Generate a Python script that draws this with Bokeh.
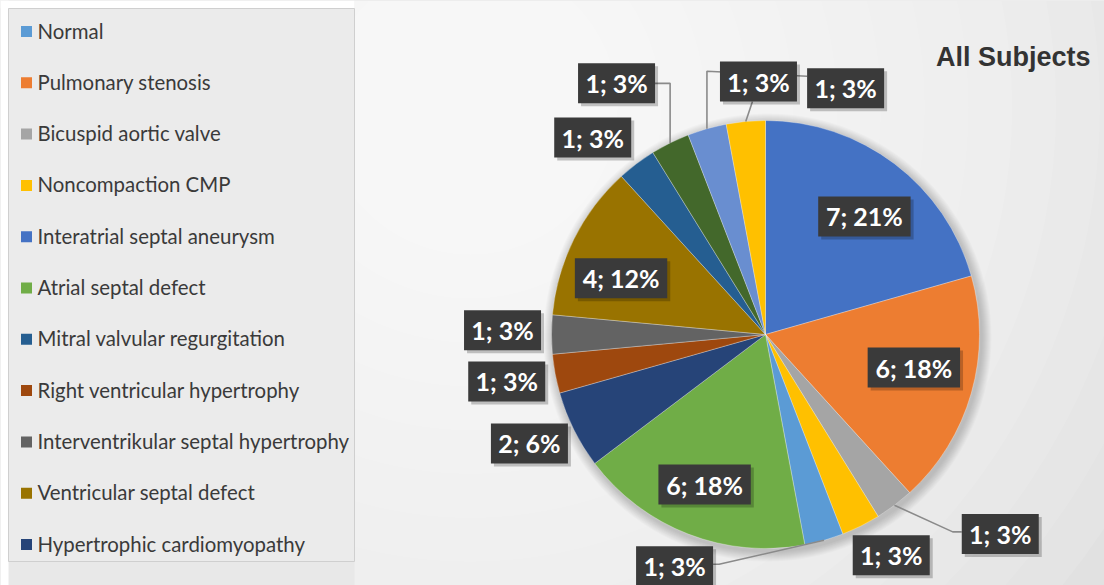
import numpy as np
from bokeh.plotting import figure
from bokeh.models import Range1d
from bokeh.core.properties import value
from bokeh.embed import file_html
from bokeh.resources import INLINE

# ---------------- data ----------------
slice_values = [7, 6, 1, 1, 1, 6, 2, 1, 1, 4, 1, 1, 1, 1]
slice_colors = ["#4472C4", "#ED7D31", "#A5A5A5", "#FFC000", "#5B9BD5", "#70AD47",
                "#264478", "#9E480E", "#636363", "#997300", "#255E91", "#43682B",
                "#698ED0", "#FFC000"]

legend_labels = ["Normal", "Pulmonary stenosis", "Bicuspid aortic valve",
                 "Noncompaction CMP", "Interatrial septal aneurysm",
                 "Atrial septal defect", "Mitral valvular regurgitation",
                 "Right ventricular hypertrophy", "Interventrikular septal hypertrophy",
                 "Ventricular septal defect", "Hypertrophic cardiomyopathy"]
legend_colors = ["#5B9BD5", "#ED7D31", "#A5A5A5", "#FFC000", "#4472C4", "#70AD47",
                 "#255E91", "#9E480E", "#636363", "#997300", "#264478"]

title_text = "All Subjects"

# ---------------- layout ----------------
W, H = 1104, 585
CX, CY, R = 765, 251, 214
# label placement: angle shift (deg, clockwise) from slice middle, distance from centre
label_shift = [2.9, -3.3, -12.6, -3.2, 37.3, 0.9, 1.7, 0.3, 0.9, -5.2, -4.2, -4.2, 33.9, 3.7]
label_dist = [154, 152, 308, 254, 249, 162, 260, 263, 263, 155, 262, 292, 259, 253]

p = figure(width=W, height=H, x_range=Range1d(0, W), y_range=Range1d(0, H),
           output_backend="svg", toolbar_location=None, min_border=0,
           background_fill_color="#cfcfcf", border_fill_color="#cfcfcf",
           outline_line_color=None)
p.axis.visible = False
p.grid.visible = False

# soft background glow
radii = np.linspace(60, 980, 22)[::-1]
p.circle(x=[470] * len(radii), y=[478] * len(radii), radius=radii,
         fill_color="white", fill_alpha=0.1, line_color=None)

# page edge around the legend panel
p.quad(left=[0], right=[354], bottom=[0], top=[H], fill_color="#e8e8e8", line_color=None)
p.quad(left=[0], right=[354], bottom=[H - 8], top=[H], fill_color="white", line_color=None)
p.quad(left=[0], right=[8], bottom=[0], top=[H], fill_color="white", line_color=None)

# legend panel
p.quad(left=[8], right=[354], bottom=[24], top=[577],
       fill_color="#ebebeb", line_color="#cfcfcf", line_width=1)

leg_y0, leg_step = H - 30, 51.3
leg_y = [leg_y0 - i * leg_step for i in range(len(legend_labels))]
p.rect(x=[26] * len(leg_y), y=[y - 1 for y in leg_y], width=11, height=11,
       fill_color=legend_colors, line_color=None)
p.text(x=[37] * len(leg_y), y=leg_y, text=legend_labels,
       text_font=value("Lato"), text_font_size="20.4px", text_color="#3a3a3a",
       text_baseline="middle", text_align="left")

# pie shadow
for k in range(10):
    p.circle(x=[CX + 2], y=[CY - 3], radius=R + 10 - k, fill_color="black",
             fill_alpha=0.02, line_color=None)

# pie wedges (clockwise from 12 o'clock)
vals = np.array(slice_values, dtype=float)
total = vals.sum()
cum = np.concatenate([[0], np.cumsum(vals)]) / total * 360.0
theta0, theta1 = cum[:-1], cum[1:]
start = np.radians(90 - theta1)
end = np.radians(90 - theta0)
p.wedge(x=[CX] * len(vals), y=[CY] * len(vals), radius=R,
        start_angle=start, end_angle=end, direction="anticlock",
        fill_color=slice_colors, line_color="white", line_width=0.6, line_alpha=0.5)

mid = (theta0 + theta1) / 2
ex = CX + R * np.sin(np.radians(mid))
ey = CY + R * np.cos(np.radians(mid))

labels = [f"{int(v)}; {round(100 * v / total):.0f}%" for v in vals]
lang = np.radians(mid + np.array(label_shift))
bx = CX + np.array(label_dist) * np.sin(lang)
by = CY + np.array(label_dist) * np.cos(lang)
bw = np.array([15.4 * len(t) for t in labels])
hw, hh = bw / 2, 20

# leader lines
lx, ly = [], []
def add(pts):
    lx.append([q[0] for q in pts]); ly.append([q[1] for q in pts])
i = 2; add([(bx[i] - hw[i], by[i] + 2), (bx[i] - hw[i] - 9, by[i] + 2), (ex[i], ey[i])])
i = 4; add([(bx[i] + hw[i], by[i] + 2), (bx[i] + hw[i] + 6, by[i] + 2), (ex[i], ey[i])])
i = 11; add([(bx[i] + hw[i], by[i]), (ex[i], by[i]), (ex[i], ey[i])])
i = 12; add([(bx[i] - hw[i], by[i] + 12), (ex[i], by[i] + 17), (ex[i], ey[i])])
i = 13; add([(bx[i] - 6, by[i] - hh), (ex[i], ey[i])])
p.multi_line(xs=lx, ys=ly, line_color="#8a8a8a", line_width=1.6)

# label boxes
p.rect(x=bx + 3, y=by - 3, width=bw, height=2 * hh, fill_color="black",
       fill_alpha=0.22, line_color=None)
p.rect(x=bx, y=by, width=bw, height=2 * hh, fill_color="#3a3a3a", line_color=None)
p.text(x=bx, y=by, text=labels, text_font=value("Lato"), text_font_style="bold",
       text_font_size="25px", text_color="white", text_align="center",
       text_baseline="middle")

# title
p.text(x=[1090], y=[H - 56], text=[title_text], text_font=value("Liberation Sans"),
       text_font_style="bold", text_font_size="27px", text_color="#333333",
       text_align="right", text_baseline="middle")

open("out.html", "w").write(file_html(p, INLINE))
